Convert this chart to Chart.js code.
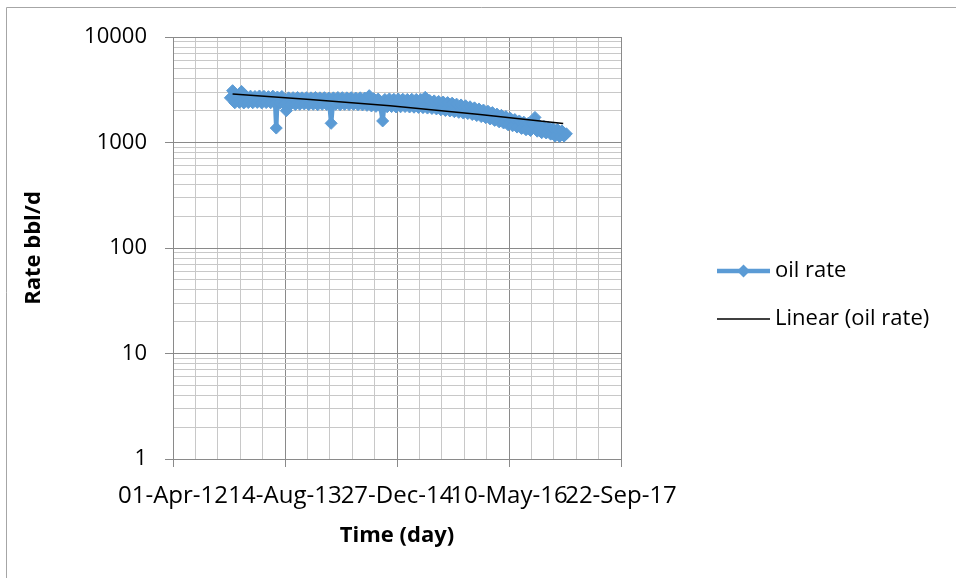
<!DOCTYPE html>
<html><head><meta charset="utf-8">
<script src="https://cdn.jsdelivr.net/npm/chart.js@4.4.1/dist/chart.umd.min.js"></script>
<style>html,body{margin:0;padding:0;background:#fff;}canvas{display:block;}</style>
</head><body>
<canvas id="c" width="956" height="578"></canvas>
<script>
// x axis: days since 01-Apr-2012
const xTickLabels = ['01-Apr-12','14-Aug-13','27-Dec-14','10-May-16','22-Sep-17'];
const xMin = 0, xMax = 2000, xMajorStep = 500, xMinorStep = 100;
const yDecades = [1, 10, 100, 1000, 10000];

const oilDays = [256,266,276,286,296,306,316,326,336,346,356,366,376,386,396,406,416,426,436,446,456,461,466,476,486,496,506,516,526,536,546,556,566,576,586,596,606,616,626,636,646,656,666,676,686,696,706,716,726,736,746,756,766,776,786,796,806,816,826,836,846,856,866,876,886,896,906,916,926,936,946,956,966,976,986,996,1006,1016,1026,1036,1046,1056,1066,1076,1086,1096,1106,1116,1126,1136,1146,1156,1166,1176,1186,1196,1206,1216,1226,1236,1246,1256,1266,1276,1286,1296,1306,1316,1326,1336,1346,1356,1366,1376,1386,1396,1406,1416,1426,1436,1446,1456,1466,1476,1486,1496,1506,1516,1526,1536,1546,1556,1566,1576,1586,1596,1606,1616,1626,1636,1646,1656,1666,1676,1686,1696,1706,1716,1726,1736,1746,1756];
const oilRate = [2650,3100,2380,2720,2400,3050,2370,2740,2390,2750,2380,2730,2400,2760,2370,2740,2390,2720,2380,2750,2360,1370,2700,2350,2730,2300,2000,2650,2310,2660,2290,2670,2300,2650,2320,2660,2290,2650,2300,2670,2280,2650,2300,2660,2290,2640,1520,2650,2300,2670,2280,2660,2300,2650,2290,2660,2300,2640,2280,2650,2270,2640,2250,2780,2220,2600,2200,2580,2190,1600,2560,2180,2590,2190,2570,2170,2580,2180,2570,2190,2560,2170,2570,2160,2560,2150,2560,2140,2680,2120,2500,2100,2480,2080,2450,2040,2420,2010,2390,1990,2360,1960,2310,1930,2270,1900,2230,1880,2180,1840,2130,1800,2080,1760,2030,1720,1980,1670,1920,1620,1860,1570,1810,1530,1760,1470,1700,1440,1650,1400,1600,1360,1560,1320,1520,1300,1500,1730,1280,1450,1240,1420,1230,1390,1200,1360,1150,1330,1140,1290,1150,1210];

const trendDays = [266, 612, 969, 1370, 1742];
const trendRate = [2880, 2560, 2230, 1840, 1510];

const FONT = 'Open Sans';
const MAJOR = '#8a8a8a', MINOR = '#c8c8c8';
const BLUE = '#5B9BD5';

const xGrid = [];
for (let d = xMin; d <= xMax; d += xMinorStep) xGrid.push(d);
const yGrid = [];
yDecades.forEach((d, i) => { if (i < yDecades.length - 1) { for (let k = 1; k <= 9; k++) yGrid.push(d * k); } else yGrid.push(d); });

const oilData = oilDays.map((d, i) => ({x: d, y: oilRate[i]}));
const trendData = trendDays.map((d, i) => ({x: d, y: trendRate[i]}));

const frame = {
  id: 'frame',
  beforeDraw(chart) {
    const c = chart.ctx;
    c.save();
    c.fillStyle = '#fff'; c.fillRect(0, 0, chart.width, chart.height);
    c.strokeStyle = '#a6a6a6'; c.lineWidth = 1;
    c.beginPath(); c.moveTo(6.5, 578); c.lineTo(6.5, 7.5); c.lineTo(956, 7.5); c.stroke();
    c.restore();
  }
};

const legendPlugin = {
  id: 'customLegend',
  afterDraw(chart) {
    const c = chart.ctx;
    const ds = chart.data.datasets;
    const rows = [{ds: ds[0], y: 271}, {ds: ds[1], y: 319}];
    c.save();
    rows.forEach(r => {
      c.strokeStyle = r.ds.borderColor; c.lineWidth = r.ds.borderWidth;
      c.beginPath(); c.moveTo(717, r.y); c.lineTo(770, r.y); c.stroke();
      if (r.ds.pointRadius > 0) {
        const rad = 6.5;
        c.fillStyle = r.ds.pointBackgroundColor;
        c.beginPath(); c.moveTo(743.5 - rad, r.y); c.lineTo(743.5, r.y - rad); c.lineTo(743.5 + rad, r.y); c.lineTo(743.5, r.y + rad); c.closePath(); c.fill();
      }
      c.fillStyle = '#000'; c.font = '22px "' + FONT + '"'; c.textBaseline = 'middle'; c.textAlign = 'left';
      c.fillText(r.ds.label, 775, r.y);
    });
    c.restore();
  }
};

new Chart(document.getElementById('c'), {
  type: 'line',
  data: {
    datasets: [
      {label: 'oil rate', data: oilData, borderColor: BLUE, backgroundColor: BLUE, borderWidth: 4.5,
       borderJoinStyle: 'round', borderCapStyle: 'round',
       pointStyle: 'rectRot', pointRadius: 6, pointBorderWidth: 1, pointBackgroundColor: BLUE, pointBorderColor: BLUE,
       tension: 0, order: 1},
      {label: 'Linear (oil rate)', data: trendData, borderColor: '#000', borderWidth: 1.5, pointRadius: 0, tension: 0, order: 0}
    ]
  },
  options: {
    responsive: false, animation: false, devicePixelRatio: 1,
    layout: {padding: {left: 0, top: 37, right: 335, bottom: 0}},
    plugins: {legend: {display: false}, tooltip: {enabled: false}},
    scales: {
      x: {
        type: 'linear', min: xMin, max: xMax,
        afterBuildTicks: s => { s.ticks = xGrid.map(v => ({value: v})); },
        afterFit: s => { s.height = 119; },
        ticks: {autoSkip: false, maxRotation: 0, minRotation: 0, padding: 15, color: '#000',
          font: {family: FONT, size: 24},
          callback: v => (v % xMajorStep === 0 ? xTickLabels[v / xMajorStep] : '')},
        grid: {lineWidth: 1, tickLength: 8,
          color: ctx => (ctx.tick && ctx.tick.value % xMajorStep === 0 ? MAJOR : MINOR),
          tickColor: ctx => (ctx.tick && ctx.tick.value % xMajorStep === 0 ? MAJOR : 'rgba(0,0,0,0)')},
        border: {color: MAJOR},
        title: {display: true, text: 'Time (day)', color: '#000', font: {family: FONT, size: 22, weight: 'bold'}, padding: {top: 0, bottom: 29}}
      },
      y: {
        type: 'logarithmic', min: 1, max: 10000,
        afterBuildTicks: s => { s.ticks = yGrid.map(v => ({value: v})); },
        afterFit: s => { s.width = 173; },
        ticks: {autoSkip: false, padding: 18, color: '#000', font: {family: FONT, size: 22},
          callback: v => (yDecades.includes(v) ? String(v) : '')},
        grid: {lineWidth: 1, tickLength: 8,
          color: ctx => (ctx.tick && yDecades.includes(ctx.tick.value) ? MAJOR : MINOR),
          tickColor: ctx => (ctx.tick && yDecades.includes(ctx.tick.value) ? MAJOR : 'rgba(0,0,0,0)')},
        border: {color: MAJOR},
        title: {display: true, text: 'Rate bbl/d', color: '#000', font: {family: FONT, size: 22, weight: 'bold'}, padding: {top: 21, bottom: 0}}
      }
    }
  },
  plugins: [frame, legendPlugin]
});
</script>
</body></html>
